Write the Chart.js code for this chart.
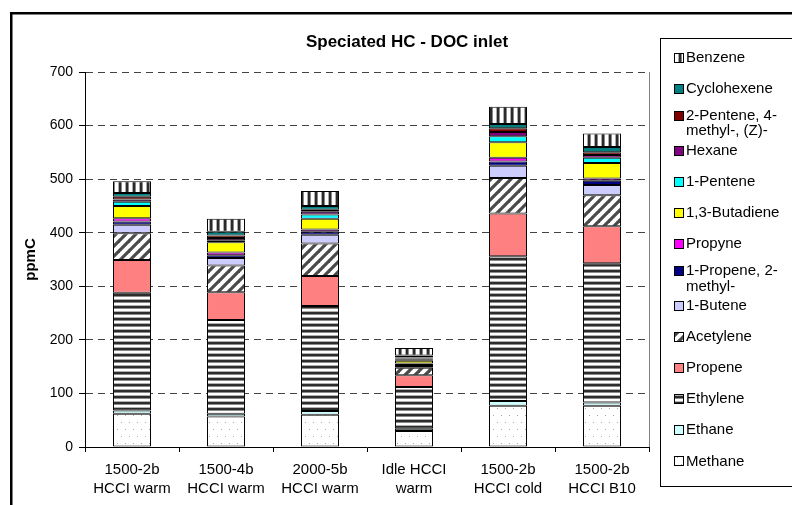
<!DOCTYPE html>
<html>
<head>
<meta charset="utf-8">
<script src="https://cdn.jsdelivr.net/npm/chart.js@4.4.0/dist/chart.umd.min.js"></script>
<style>
  html, body { margin: 0; padding: 0; background: #fff; }
  canvas { display: block; }
</style>
</head>
<body>
<canvas id="c" width="792" height="505"></canvas>
<script>
// Operating points (two-line category labels)
const categories = [
  ['1500-2b', 'HCCI warm'],
  ['1500-4b', 'HCCI warm'],
  ['2000-5b', 'HCCI warm'],
  ['Idle HCCI', 'warm'],
  ['1500-2b', 'HCCI cold'],
  ['1500-2b', 'HCCI B10']
];

// Speciated hydrocarbons at DOC inlet, ppmC (stack order bottom -> top)
const methane      = [62, 57, 60, 30, 77, 77];
const ethane       = [6, 5, 7, 4, 9, 6];
const ethylene     = [220, 175, 196, 78, 270, 260];
const propene      = [61, 52, 56, 22, 80, 69];
const acetylene    = [50, 50, 61, 14, 66, 58];
const butene1      = [16, 14, 16, 3, 23, 19];
const methylPropene = [6, 5, 6, 4, 8, 8];
const propyne      = [6, 5, 4, 1, 7, 4];
const butadiene    = [23, 19, 20, 5, 29, 29];
const pentene1     = [8, 4, 8, 2, 11, 10];
const hexane       = [4, 4, 5, 2, 8, 5];
const methylPentene = [5, 5, 4, 2, 7, 5];
const cyclohexene  = [7, 7, 7, 4, 8, 10];
const benzene      = [22, 24, 28, 14, 32, 25];

const seriesNames = [
  'Methane', 'Ethane', 'Ethylene', 'Propene', 'Acetylene', '1-Butene',
  '1-Propene, 2-methyl-', 'Propyne', '1,3-Butadiene', '1-Pentene', 'Hexane',
  '2-Pentene, 4-methyl-, (Z)-', 'Cyclohexene', 'Benzene'
];
const seriesValues = [
  methane, ethane, ethylene, propene, acetylene, butene1, methylPropene,
  propyne, butadiene, pentene1, hexane, methylPentene, cyclohexene, benzene
];
const yTicks = [0, 100, 200, 300, 400, 500, 600, 700];

const FONT = 'Arial, "Liberation Sans", sans-serif';
Chart.defaults.font.family = FONT;
Chart.defaults.color = '#000';

const canvas = document.getElementById('c');
const ctx = canvas.getContext('2d');

// Small repeating tiles for the hatched fills
function tile(w, h, paint) {
  const c = document.createElement('canvas');
  c.width = w; c.height = h;
  const g = c.getContext('2d');
  g.fillStyle = '#fff';
  g.fillRect(0, 0, w, h);
  paint(g);
  return ctx.createPattern(c, 'repeat');
}

const dotted = tile(8, 14, g => {
  g.fillStyle = '#a8a8a8';
  g.fillRect(1, 2, 1, 1);
  g.fillRect(5, 9, 1, 1);
});
const hStripes = tile(1, 6, g => {
  g.fillStyle = '#2c2c2c'; g.fillRect(0, 0, 1, 2);
  g.fillStyle = '#8a8a8a'; g.fillRect(0, 2, 1, 1);
  g.fillStyle = '#b0b0b0'; g.fillRect(0, 5, 1, 1);
});
const vStripes = tile(7, 1, g => {
  g.fillStyle = '#2a2a2a'; g.fillRect(0, 0, 2, 1);
  g.fillStyle = '#888'; g.fillRect(2, 0, 1, 1);
  g.fillStyle = '#aaa'; g.fillRect(6, 0, 1, 1);
});
const diagStripes = tile(10, 10, g => {
  g.strokeStyle = '#4a4a4a';
  g.lineWidth = 3.2;
  for (const s of [-10, 0, 10]) {
    g.beginPath();
    g.moveTo(s - 1, 11);
    g.lineTo(s + 11, -1);
    g.stroke();
  }
});

const fills = [
  dotted, '#ccffff', hStripes, '#ff8080', diagStripes, '#ccccff',
  '#000080', '#ff00ff', '#ffff00', '#00ffff', '#800080',
  '#800000', '#008080', vStripes
];

// Greedy wrap that breaks after hyphens or spaces
function wrapLabel(g, text, maxW) {
  const tokens = text.match(/[^\s-]*[-\s]+|[^\s-]+$/g) || [text];
  const lines = [];
  let cur = '';
  for (const t of tokens) {
    if (cur && g.measureText((cur + t).trimEnd()).width > maxW) {
      lines.push(cur.trimEnd());
      cur = t.trimStart();
    } else {
      cur += t;
    }
  }
  if (cur) lines.push(cur.trimEnd());
  return lines;
}

const decorations = {
  id: 'decorations',
  afterDraw(chart) {
    const g = chart.ctx;
    const area = chart.chartArea;
    g.save();

    // outer chart frame
    g.fillStyle = '#000';
    g.fillRect(10, 12, 2.5, 505);
    g.fillRect(10, 12, 800, 2.5);

    // right edge of plot area
    g.strokeStyle = '#808080';
    g.lineWidth = 1;
    g.beginPath();
    g.moveTo(Math.round(area.right) + 0.5, area.top);
    g.lineTo(Math.round(area.right) + 0.5, area.bottom);
    g.stroke();

    // title
    g.fillStyle = '#000';
    g.font = 'bold 17px ' + FONT;
    g.textAlign = 'center';
    g.textBaseline = 'middle';
    g.fillText('Speciated HC - DOC inlet', 407, 42);

    // legend, top entry = top of stack
    g.strokeStyle = '#000';
    g.strokeRect(660.5, 38.5, 200, 448);
    g.font = '15px ' + FONT;
    g.textAlign = 'left';
    const items = chart.data.datasets.slice().reverse();
    items.forEach((d, i) => {
      const cy = 57.5 + 31.07 * i;
      const lines = wrapLabel(g, d.label, 100);
      const y0 = lines.length > 1 ? cy - 4 : cy;
      const sy = Math.round(y0 - 4);
      g.fillStyle = d.backgroundColor;
      g.fillRect(675, sy, 8, 8);
      g.strokeStyle = '#000';
      g.strokeRect(674.5, sy - 0.5, 9, 9);
      g.fillStyle = '#000';
      lines.forEach((ln, k) => g.fillText(ln, 686, y0 + k * 15.5));
    });
    g.restore();
  }
};

new Chart(ctx, {
  type: 'bar',
  data: {
    labels: categories,
    datasets: seriesNames.map((name, i) => ({
      label: name,
      data: seriesValues[i],
      backgroundColor: fills[i],
      borderColor: '#000',
      borderWidth: 1,
      borderSkipped: false,
      barPercentage: 0.404,
      categoryPercentage: 1
    }))
  },
  options: {
    responsive: false,
    animation: false,
    devicePixelRatio: 1,
    layout: { padding: { left: 0, right: 143, top: 72, bottom: 0 } },
    plugins: {
      legend: { display: false },
      title: { display: false },
      tooltip: { enabled: false }
    },
    scales: {
      x: {
        stacked: true,
        grid: {
          display: true,
          drawOnChartArea: false,
          drawTicks: true,
          tickLength: 5,
          color: '#000',
          offset: true
        },
        border: { display: true, color: '#000', width: 1 },
        ticks: {
          color: '#000',
          font: { size: 15, lineHeight: 1.27 },
          padding: 8,
          maxRotation: 0,
          autoSkip: false
        },
        afterFit(scale) { scale.height = 58; }
      },
      y: {
        stacked: true,
        min: yTicks[0],
        max: yTicks[yTicks.length - 1],
        afterBuildTicks(scale) { scale.ticks = yTicks.map(v => ({ value: v })); },
        ticks: { color: '#000', font: { size: 14 }, padding: 6 },
        grid: {
          color: c => (c.tick && c.tick.value === 0 ? 'rgba(0,0,0,0)' : '#444'),
          tickColor: '#000',
          tickLength: 6,
          drawTicks: true
        },
        border: { display: true, color: '#000', width: 1, dash: [7, 5] },
        title: {
          display: true,
          text: 'ppmC',
          color: '#000',
          font: { size: 15, weight: 'bold' },
          padding: { top: 22, bottom: 0 }
        },
        afterFit(scale) { scale.width = 85; }
      }
    }
  },
  plugins: [decorations]
});
</script>
</body>
</html>
